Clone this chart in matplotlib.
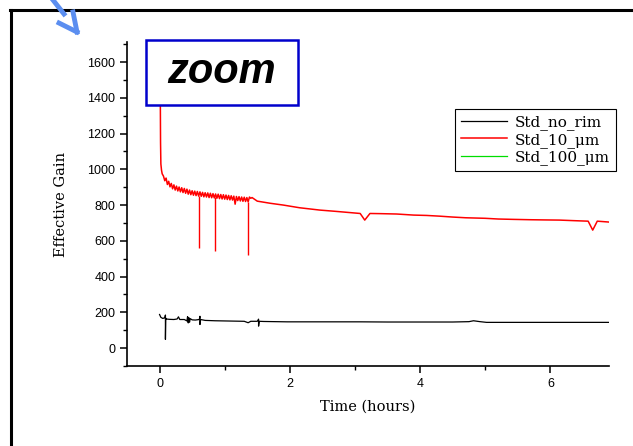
import matplotlib
matplotlib.use("Agg")
import matplotlib.pyplot as plt
from matplotlib.lines import Line2D
from matplotlib.patches import Rectangle
from matplotlib.ticker import MultipleLocator
import numpy as np

# ---- data ----
# Std_no_rim (black)
norim_t = [0.0, 0.02, 0.05, 0.08, 0.09, 0.09, 0.095, 0.10, 0.15, 0.22, 0.27, 0.29, 0.31,
           0.38, 0.42, 0.43, 0.44, 0.45, 0.46, 0.47, 0.50, 0.55, 0.61, 0.62, 0.62, 0.63,
           0.70, 0.85, 1.00, 1.15, 1.30, 1.36, 1.40, 1.50, 1.52, 1.52, 1.53, 1.60, 1.96,
           2.50, 3.08, 3.50, 4.00, 4.50, 4.75, 4.82, 4.92, 5.02, 5.50, 6.00, 6.50, 6.90]
norim_v = [188, 172, 166, 170, 185, 49, 168, 163, 161, 160, 163, 175, 160,
           160, 152, 176, 141, 170, 145, 165, 158, 157, 160, 178, 132, 160,
           155, 153, 152, 151, 150, 142, 150, 150, 162, 123, 150, 149, 147,
           147, 147, 146, 146, 146, 148, 153, 148, 144, 144, 144, 144, 144]

# Std_10_um (red): fast drop, noisy part, then smooth decay
red_head_t = [0.0, 0.01, 0.015, 0.02, 0.03, 0.04]
red_head_v = [1800, 1500, 1150, 1030, 995, 975]

red_noisy_t = [0.06, 0.08, 0.10, 0.12, 0.14, 0.16, 0.18, 0.20, 0.22, 0.24, 0.26, 0.28,
               0.30, 0.32, 0.34, 0.36, 0.38, 0.40, 0.42, 0.44, 0.46, 0.48, 0.50, 0.52,
               0.54, 0.56, 0.58, 0.60, 0.62, 0.64, 0.66, 0.68, 0.70, 0.72, 0.74, 0.76,
               0.78, 0.80, 0.82, 0.84, 0.86, 0.88, 0.90, 0.92, 0.94, 0.96, 0.98, 1.00,
               1.02, 1.04, 1.06, 1.08, 1.10, 1.12, 1.14, 1.16, 1.18, 1.20, 1.22, 1.24,
               1.26, 1.28, 1.30, 1.32, 1.34, 1.36, 1.38, 1.40]
red_noisy_v = [962, 936, 951, 915, 933, 902, 921, 891, 913, 884, 906, 879,
               901, 874, 897, 870, 893, 866, 889, 861, 884, 858, 880, 855,
               878, 853, 876, 850, 874, 849, 871, 846, 869, 845, 868, 842,
               866, 841, 864, 840, 862, 838, 861, 836, 859, 834, 858, 833,
               856, 831, 854, 829, 852, 828, 850, 805, 848, 825, 847, 823,
               845, 821, 844, 820, 842, 818, 845, 838]

red_tail_t = [1.42, 1.50, 1.70, 1.90, 2.15, 2.46, 2.70, 3.08, 3.15, 3.23, 3.40, 3.64,
              3.90, 4.10, 4.30, 4.50, 4.70, 5.00, 5.20, 5.43, 5.70, 5.90, 6.14, 6.35,
              6.50, 6.58, 6.65, 6.72, 6.90]
red_tail_v = [842, 822, 810, 800, 785, 772, 765, 753, 716, 753, 752, 750,
              744, 742, 738, 733, 729, 726, 722, 720, 718, 717, 716, 713,
              711, 710, 660, 710, 705]

# downward glitches in the red trace
red_spike_t = [0.60, 0.845, 1.36]
red_spike_v = [558, 543, 520]

# Std_100_um (green): no points inside the visible window
um100_t = []
um100_v = []

labels = ["Std_no_rim", "Std_10_\u03bcm", "Std_100_\u03bcm"]

W, H = 633, 446


def fx(px):
    return px / W


def fy(py):
    return 1 - py / H


fig = plt.figure(figsize=(6.33, 4.46), dpi=100)
ax = fig.add_axes([fx(127), fy(366), fx(609) - fx(127), fy(42) - fy(366)])

red_t = np.array(red_head_t + red_noisy_t + red_tail_t)
red_v = np.array(red_head_v + red_noisy_v + red_tail_v)

ax.plot(norim_t, norim_v, color="black", lw=0.9, label=labels[0])
ax.plot(red_t, red_v, color="#ff0000", lw=1.1, label=labels[1])
ax.vlines(red_spike_t, red_spike_v, np.interp(red_spike_t, red_t, red_v),
          color="#ff0000", lw=1.0)
ax.plot(um100_t, um100_v, color="#00dd00", lw=0.9, label=labels[2])

ax.set_xlim(-0.5, 6.9)
ax.set_ylim(-100, 1712)
ax.xaxis.set_major_locator(MultipleLocator(2))
ax.xaxis.set_minor_locator(MultipleLocator(1))
ax.yaxis.set_major_locator(MultipleLocator(200))
ax.yaxis.set_minor_locator(MultipleLocator(100))
ax.set_yticks(np.arange(0, 1601, 200))

for s in ["top", "right"]:
    ax.spines[s].set_visible(False)
for s in ["left", "bottom"]:
    ax.spines[s].set_linewidth(1.2)

ax.tick_params(which="major", direction="out", length=5, width=1.1)
ax.tick_params(which="minor", direction="out", length=3, width=1.0)
for lab in ax.get_xticklabels() + ax.get_yticklabels():
    lab.set_fontfamily("Liberation Sans")
    lab.set_fontsize(9)

ax.set_xlabel("Time (hours)", fontfamily="DejaVu Serif", fontsize=10.5, labelpad=7)
ax.set_ylabel("Effective Gain", fontfamily="DejaVu Serif", fontsize=10.5, labelpad=14)

leg = ax.legend(loc="upper right", bbox_to_anchor=(fx(616), fy(109)),
                bbox_transform=fig.transFigure, fancybox=False, frameon=True,
                edgecolor="black", framealpha=1, handlelength=3.0,
                borderpad=0.4, labelspacing=0.18, borderaxespad=0,
                handletextpad=0.5,
                prop={"family": "DejaVu Serif", "size": 11})
leg.get_frame().set_linewidth(0.8)

# outer frame (top and left edges only show)
fig.add_artist(Line2D([fx(10), fx(633)], [fy(10), fy(10)], color="black", lw=2.2))
fig.add_artist(Line2D([fx(10.5), fx(10.5)], [fy(10), fy(446)], color="black", lw=2.2))

# "zoom" box
fig.add_artist(Rectangle((fx(146), fy(105)), fx(298) - fx(146), fy(40) - fy(105),
                         transform=fig.transFigure, facecolor="white",
                         edgecolor="#0000cc", lw=1.8, zorder=5))
fig.text(fx(222), fy(72), "zoom", fontfamily="Liberation Sans", fontsize=30,
         fontweight="bold", fontstyle="italic", ha="center", va="center", zorder=6)

# blue arrow at top-left
arrow_c = "#5b8ef0"
fig.add_artist(Line2D([fx(53), fx(64)], [fy(0), fy(14)], color=arrow_c, lw=3.5))
fig.add_artist(Line2D([fx(59), fx(77)], [fy(23), fy(32)], color=arrow_c, lw=3.5))
fig.add_artist(Line2D([fx(73), fx(77)], [fy(12), fy(32)], color=arrow_c, lw=3.5))

fig.savefig("out.png", dpi=100)
